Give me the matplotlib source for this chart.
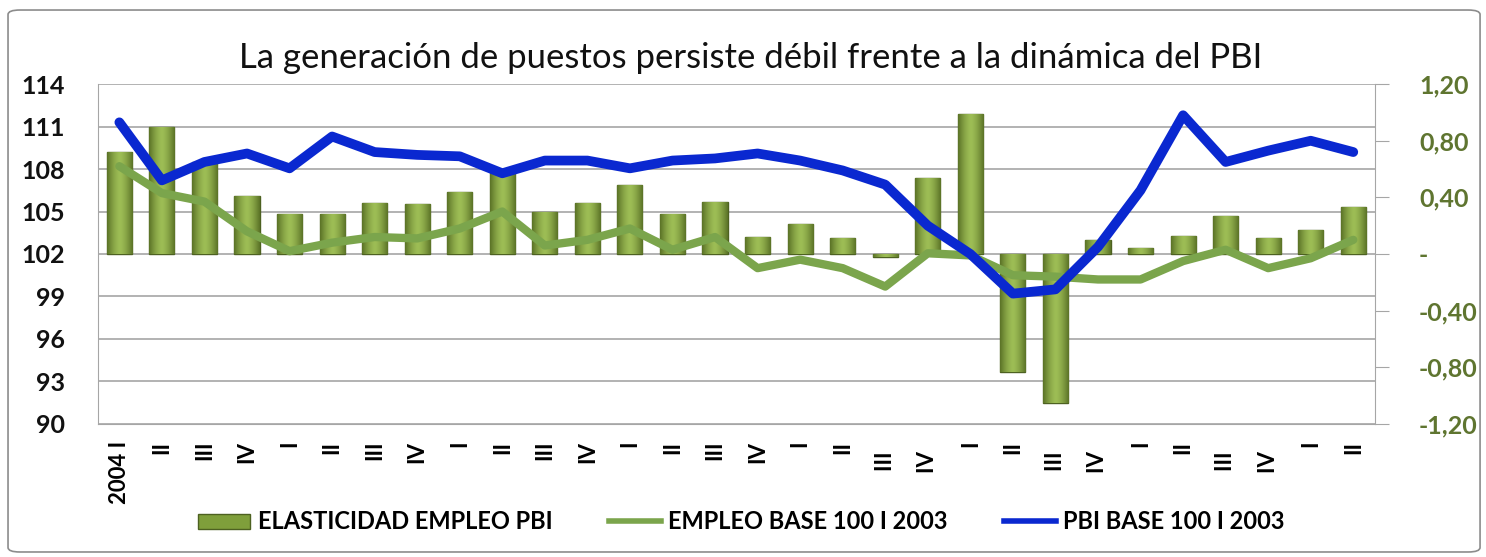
import matplotlib
matplotlib.use("Agg")
from matplotlib import pyplot as plt
from matplotlib.patches import FancyBboxPatch, Patch
from matplotlib.lines import Line2D
import numpy as np

plt.rcParams['font.family'] = ['Lato', 'DejaVu Sans']

# quarters 2004 I ... 2011 II (trailing spaces push some labels down, as in the original)
quarters = ["2004 I", "II", "III", "IV",
            "I", "II", "III", "IV",
            "I", "II", "III", "IV",
            "I", "II", "III", "IV",
            "I", "II", "III  ", "IV  ",
            "I", "II", "III  ", "IV  ",
            "I", "II", "III  ", "IV  ",
            "I", "II"]

# elasticidad empleo / PBI (right axis)
elasticidad = [0.72, 0.90, 0.65, 0.41, 0.28, 0.28, 0.36, 0.35, 0.44, 0.60,
               0.30, 0.36, 0.49, 0.28, 0.37, 0.12, 0.21, 0.11, -0.02, 0.54,
               0.99, -0.835, -1.05, 0.10, 0.04, 0.13, 0.27, 0.11, 0.17, 0.33]

# empleo base 100 I 2003 (left axis)
empleo = [108.2, 106.3, 105.7, 103.6, 102.2, 102.8, 103.2, 103.1, 103.8, 105.0,
          102.6, 103.0, 103.8, 102.3, 103.2, 101.0, 101.6, 101.0, 99.7, 102.05,
          101.9, 100.5, 100.4, 100.2, 100.2, 101.5, 102.3, 101.0, 101.7, 103.0]

# PBI base 100 I 2003 (left axis)
pbi = [111.3, 107.2, 108.5, 109.1, 108.05, 110.3, 109.2, 109.0, 108.9, 107.7,
       108.6, 108.6, 108.05, 108.6, 108.75, 109.1, 108.6, 107.9, 106.9, 104.0,
       102.0, 99.2, 99.5, 102.5, 106.5, 111.8, 108.5, 109.3, 110.0, 109.2]

left_ticks = [90, 93, 96, 99, 102, 105, 108, 111, 114]
right_ticks = [-1.2, -0.8, -0.4, 0.0, 0.4, 0.8, 1.2]

bar_color = '#7f9f3b'
bar_edge = '#4d6121'
empleo_color = '#7ba54c'
pbi_color = '#0a28d0'
right_label_color = '#5f7530'
grid_color = '#a6a6a6'

x = np.arange(len(quarters))

fig = plt.figure(figsize=(14.86, 5.57), dpi=100)

# outer frame like the excel chart area
frame = FancyBboxPatch((0.0054, 0.009), 0.9906, 0.973,
                       boxstyle='round,pad=0,rounding_size=0.008',
                       transform=fig.transFigure, ec='#8c8c8c', fc='none', lw=1.2)
fig.patches.append(frame)

rect = [0.066, 0.239, 0.859, 0.610]

# ax1: left scale + grid (bottom layer)
ax1 = fig.add_axes(rect)
ax1.set_ylim(90, 114)
ax1.set_xlim(-0.5, len(quarters) - 0.5)
ax1.set_yticks(left_ticks)
ax1.set_yticklabels([str(t) for t in left_ticks], fontsize=18, fontweight='bold', color='#111111')
ax1.tick_params(axis='y', length=0, pad=24)
ax1.yaxis.grid(True, color=grid_color, lw=1.2)
ax1.set_axisbelow(True)
ax1.set_xticks(x)
ax1.set_xticklabels(quarters, rotation=90, va='top', ha='center', fontsize=16, fontweight='bold')
ax1.tick_params(axis='x', length=0, pad=12)
for s in ['top', 'right']:
    ax1.spines[s].set_visible(False)
ax1.spines['left'].set_color(grid_color)
ax1.spines['bottom'].set_color(grid_color)

# ax2: bars on right scale
ax2 = ax1.twinx()
ax2.set_ylim(-1.2, 1.2)
bars = ax2.bar(x, elasticidad, width=0.59, color=bar_color, edgecolor=bar_edge, lw=1)

# excel-like shading: dark edges, light centre
grad = np.linspace(-1, 1, 64)
grad = 1 - np.abs(grad) ** 1.5
grad = np.tile(grad, (2, 1))
shade = matplotlib.colors.LinearSegmentedColormap.from_list('shade', ['#5b7327', '#9dbd55'])
for b in bars:
    x0, y0 = b.get_x(), b.get_y()
    w, h = b.get_width(), b.get_height()
    im = ax2.imshow(grad, cmap=shade, aspect='auto', interpolation='bilinear',
                    extent=(x0, x0 + w, min(y0, y0 + h), max(y0, y0 + h)), zorder=2)
    im.set_clip_path(b)
ax2.set_xlim(-0.5, len(quarters) - 0.5)
ax2.set_ylim(-1.2, 1.2)

ax2.set_yticks(right_ticks)
ax2.set_yticklabels(['-' if t == 0 else f"{t:.2f}".replace('.', ',') for t in right_ticks],
                    fontsize=18, fontweight='bold', color=right_label_color)
ax2.tick_params(axis='y', length=10, color=grid_color, pad=22)
for s in ['top', 'left', 'bottom']:
    ax2.spines[s].set_visible(False)
ax2.spines['right'].set_color(grid_color)

# ax3: lines on left scale, top layer
ax3 = ax1.twinx()
ax3.set_ylim(90, 114)
ax3.plot(x, empleo, color=empleo_color, lw=6, solid_capstyle='round', solid_joinstyle='round')
ax3.plot(x, pbi, color=pbi_color, lw=7, solid_capstyle='round', solid_joinstyle='round')
ax3.set_yticks([])
for s in ax3.spines.values():
    s.set_visible(False)

fig.suptitle("La generación de puestos persiste débil frente a la dinámica del PBI",
             x=0.505, y=0.896, va='center', fontsize=25, color='#111111')

handles = [Patch(facecolor=bar_color, edgecolor=bar_edge),
           Line2D([], [], color=empleo_color, lw=4),
           Line2D([], [], color=pbi_color, lw=4)]
labels = ["ELASTICIDAD EMPLEO PBI", "EMPLEO BASE 100 I 2003", "PBI BASE 100 I 2003"]
fig.legend(handles, labels, loc='center', bbox_to_anchor=(0.499, 0.063), ncol=3,
           frameon=False, prop={'weight': 'bold', 'size': 17},
           handlelength=2.2, handleheight=0.6, handletextpad=0.3, columnspacing=2.4)

plt.savefig('out.png', dpi=100)
